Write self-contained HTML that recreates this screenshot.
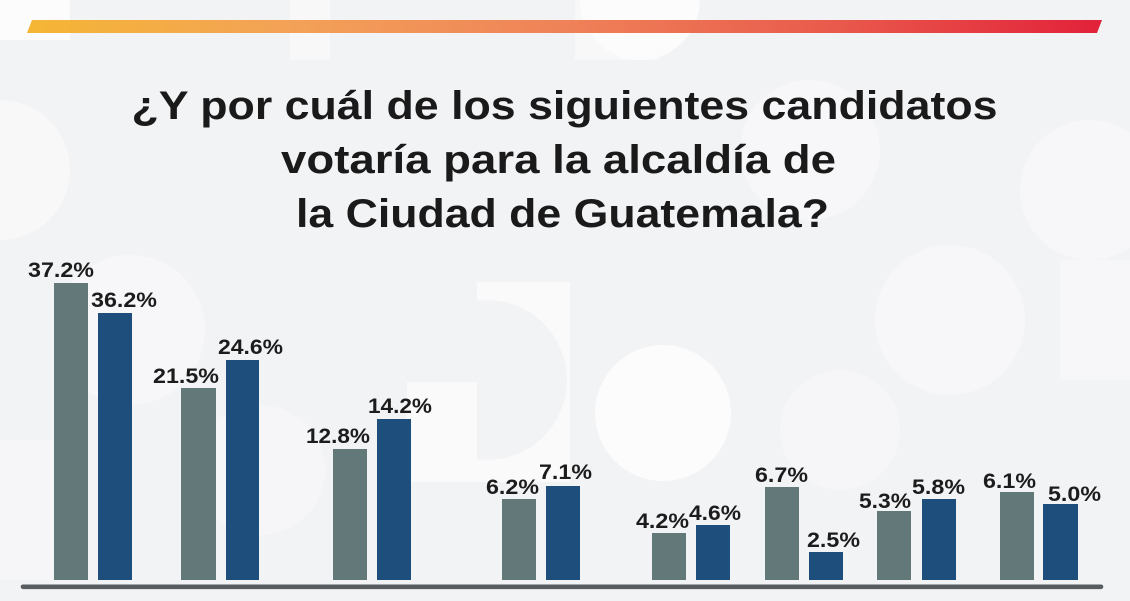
<!DOCTYPE html>
<html>
<head>
<meta charset="utf-8">
<style>
  html,body{margin:0;padding:0;background:#f3f4f6;}
  svg{display:block;}
</style>
</head>
<body>
<svg width="1130" height="601" viewBox="0 0 1130 601" xmlns="http://www.w3.org/2000/svg">
  <defs>
    <linearGradient id="g" x1="0" y1="0" x2="1" y2="0">
      <stop offset="0" stop-color="#f5b634"/>
      <stop offset="0.25" stop-color="#f3a158"/>
      <stop offset="0.5" stop-color="#ef8258"/>
      <stop offset="0.75" stop-color="#e95a4c"/>
      <stop offset="1" stop-color="#e2213a"/>
    </linearGradient>
  </defs>
  <rect x="0" y="0" width="1130" height="601" fill="#f2f3f5"/>
  <!-- subtle background pattern -->
  <g fill="#ffffff" opacity="0.75">
    <rect x="0" y="0" width="70" height="40"/>
    <path d="M0 100 A70 70 0 0 1 0 240 Z" opacity="0.6"/>
    <rect x="290" y="0" width="40" height="60" opacity="0.6"/>
    <path d="M580 0 A60 60 0 0 0 700 0 Z"/>
    <rect x="575" y="0" width="85" height="60" opacity="0.6"/>
    <circle cx="663" cy="413" r="68"/>
    <rect x="477" y="282" width="93" height="200" opacity="0.8"/>
    <circle cx="487" cy="380" r="80" fill="#f2f3f5" opacity="1"/>
    <rect x="407" y="382" width="70" height="100" opacity="0.8"/>
    <circle cx="130" cy="330" r="75" opacity="0.5"/>
    <circle cx="810" cy="150" r="70" opacity="0.5"/>
    <circle cx="950" cy="320" r="75" opacity="0.5"/>
    <circle cx="1090" cy="190" r="70" opacity="0.5"/>
    <circle cx="260" cy="470" r="65" opacity="0.4"/>
    <circle cx="840" cy="430" r="60" opacity="0.4"/>
    <rect x="1060" y="260" width="70" height="120" opacity="0.5"/>
    <rect x="0" y="440" width="60" height="140" opacity="0.4"/>
  </g>

  <!-- top gradient bar -->
  <polygon points="32,20 1102,20 1097,33 27,33" fill="url(#g)"/>

  <!-- title -->
  <g font-family="Liberation Sans, Arial, sans-serif" font-weight="bold" font-size="40" fill="#1a1a1a">
    <text x="131.5" y="119" textLength="866" lengthAdjust="spacingAndGlyphs">¿Y por cuál de los siguientes candidatos</text>
    <text x="281" y="173" textLength="555" lengthAdjust="spacingAndGlyphs">votaría para la alcaldía de</text>
    <text x="296" y="227" textLength="533" lengthAdjust="spacingAndGlyphs">la Ciudad de Guatemala?</text>
  </g>

  <!-- bars -->
  <g fill="#637979">
    <rect x="54" y="283" width="34" height="297"/>
    <rect x="181" y="388" width="35" height="192"/>
    <rect x="333" y="449" width="34" height="131"/>
    <rect x="502" y="499" width="34" height="81"/>
    <rect x="652" y="533" width="34" height="47"/>
    <rect x="765" y="487" width="34" height="93"/>
    <rect x="877" y="511" width="34" height="69"/>
    <rect x="1000" y="492" width="34" height="88"/>
  </g>
  <g fill="#1e4f7c">
    <rect x="98" y="313" width="34" height="267"/>
    <rect x="226" y="360" width="33" height="220"/>
    <rect x="377" y="419" width="34" height="161"/>
    <rect x="546" y="486" width="34" height="94"/>
    <rect x="696" y="525" width="34" height="55"/>
    <rect x="809" y="552" width="34" height="28"/>
    <rect x="922" y="499" width="34" height="81"/>
    <rect x="1043" y="504" width="35" height="76"/>
  </g>

  <!-- baseline -->
  <line x1="23" y1="586.8" x2="1101" y2="586.8" stroke="#565c5f" stroke-width="4.6" stroke-linecap="round"/>

  <!-- value labels -->
  <g font-family="Liberation Sans, Arial, sans-serif" font-weight="bold" font-size="21" fill="#1c1c1c">
    <text x="28" y="277" textLength="66" lengthAdjust="spacingAndGlyphs">37.2%</text>
    <text x="91" y="307" textLength="66" lengthAdjust="spacingAndGlyphs">36.2%</text>
    <text x="153" y="383" textLength="66" lengthAdjust="spacingAndGlyphs">21.5%</text>
    <text x="218" y="354" textLength="65" lengthAdjust="spacingAndGlyphs">24.6%</text>
    <text x="306" y="443" textLength="64" lengthAdjust="spacingAndGlyphs">12.8%</text>
    <text x="368" y="413" textLength="64" lengthAdjust="spacingAndGlyphs">14.2%</text>
    <text x="486" y="494" textLength="53" lengthAdjust="spacingAndGlyphs">6.2%</text>
    <text x="539" y="479" textLength="53" lengthAdjust="spacingAndGlyphs">7.1%</text>
    <text x="636" y="528" textLength="53" lengthAdjust="spacingAndGlyphs">4.2%</text>
    <text x="689" y="520" textLength="52" lengthAdjust="spacingAndGlyphs">4.6%</text>
    <text x="755" y="482" textLength="53" lengthAdjust="spacingAndGlyphs">6.7%</text>
    <text x="807" y="547" textLength="53" lengthAdjust="spacingAndGlyphs">2.5%</text>
    <text x="859" y="508" textLength="52" lengthAdjust="spacingAndGlyphs">5.3%</text>
    <text x="912" y="494" textLength="53" lengthAdjust="spacingAndGlyphs">5.8%</text>
    <text x="983" y="488" textLength="53" lengthAdjust="spacingAndGlyphs">6.1%</text>
    <text x="1048" y="501" textLength="53" lengthAdjust="spacingAndGlyphs">5.0%</text>
  </g>
</svg>
</body>
</html>
